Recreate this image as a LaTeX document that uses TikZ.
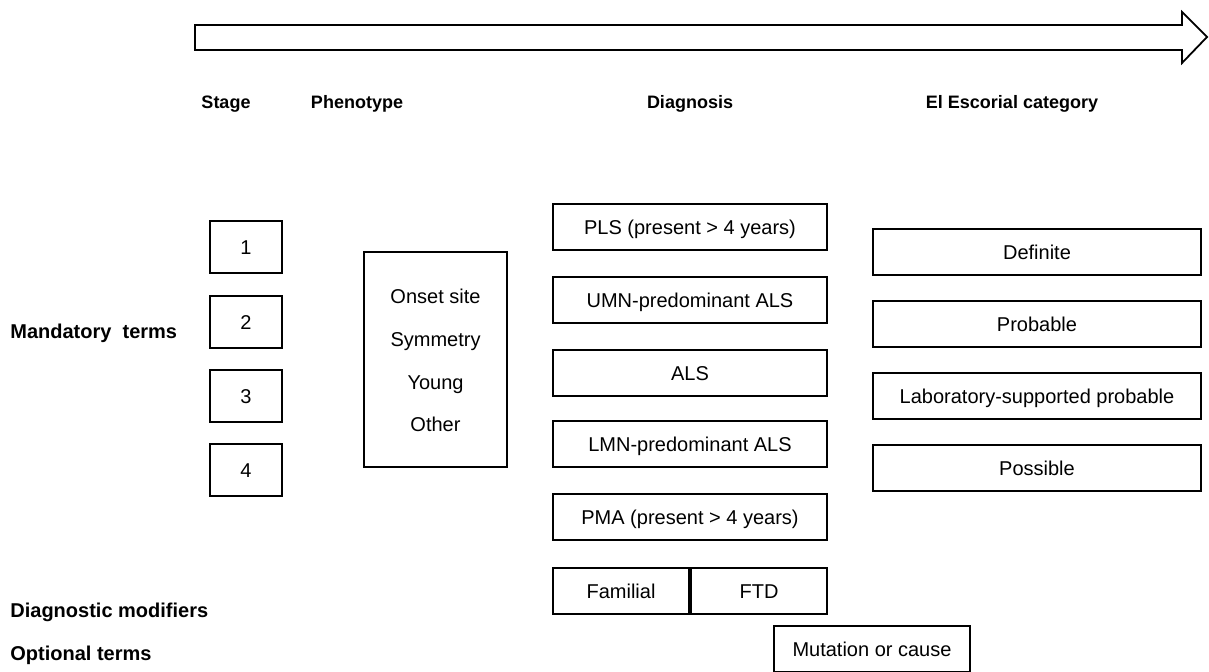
\documentclass[tikz,border=0pt]{standalone}
\usepackage{fontspec}
\setmainfont{Liberation Sans}
\begin{document}
\begin{tikzpicture}[x=0.5pt,y=-0.5pt]
    \tikzstyle{every node}+=[inner sep=0pt]
    \tikzset{
      head/.style={font=\fontsize{9}{11}\selectfont\bfseries},
      side/.style={font=\fontsize{10}{12}\selectfont\bfseries, anchor=west},
      plain/.style={font=\fontsize{10}{12}\selectfont, text height=7.2pt, text depth=0pt},
      box/.style={plain, draw, line width=0.9pt, minimum height=23pt},
      stagebox/.style={box, minimum width=36pt, minimum height=26pt},
      diagbox/.style={box, minimum width=137pt},
      catbox/.style={box, minimum width=164pt}
    }
    \useasboundingbox (0,0) rectangle (1209,672);
    % time arrow
    \draw [line width=0.9pt] (195,25) -- (1182,25) -- (1182,12) -- (1207,37)
        -- (1182,63) -- (1182,50) -- (195,50) -- cycle;
    % column heads
    \node [head] (hstage) at (226,104) {Stage};
    \node [head] (hpheno) at (357,104) {Phenotype};
    \node [head] (hdiag) at (690,104) {Diagnosis};
    \node [head] (hcat) at (1012,104) {El Escorial category};
    % row labels
    \node [side] (lmand) at (10,333) {Mandatory\ \ terms};
    \node [side] (lmod) at (10,612) {Diagnostic modifiers};
    \node [side] (lopt) at (10,655) {Optional terms};
    % stage
    \node [stagebox] (s1) at (246,247) {1};
    \node [stagebox] (s2) at (246,322) {2};
    \node [stagebox] (s3) at (246,396) {3};
    \node [stagebox] (s4) at (246,470) {4};
    % phenotype
    \node [box, minimum width=71.5pt, minimum height=107.5pt] (pheno) at (435.5,359.5) {};
    \node [plain] (ponset) at (435.5,296) {Onset site};
    \node [plain] (psym) at (435.5,339) {Symmetry};
    \node [plain] (pyoung) at (435.5,382) {Young};
    \node [plain] (pother) at (435.5,424) {Other};
    % diagnosis
    \node [diagbox] (pls) at (690,227) {PLS (present > 4 years)};
    \node [diagbox] (umn) at (690,300) {UMN-predominant ALS};
    \node [diagbox] (als) at (690,373) {ALS};
    \node [diagbox] (lmn) at (690,444) {LMN-predominant ALS};
    \node [diagbox] (pma) at (690,517) {PMA (present > 4 years)};
    \node [box, minimum width=68pt] (fam) at (621,591) {Familial};
    \node [box, minimum width=68pt] (ftd) at (759,591) {FTD};
    % El Escorial
    \node [catbox] (defin) at (1037,252) {Definite};
    \node [catbox] (prob) at (1037,324) {Probable};
    \node [catbox] (lab) at (1037,396) {Laboratory-supported probable};
    \node [catbox] (poss) at (1037,468) {Possible};
    % optional
    \node [box, minimum width=98pt] (mut) at (872,649) {Mutation or cause};
\end{tikzpicture}
\end{document}
